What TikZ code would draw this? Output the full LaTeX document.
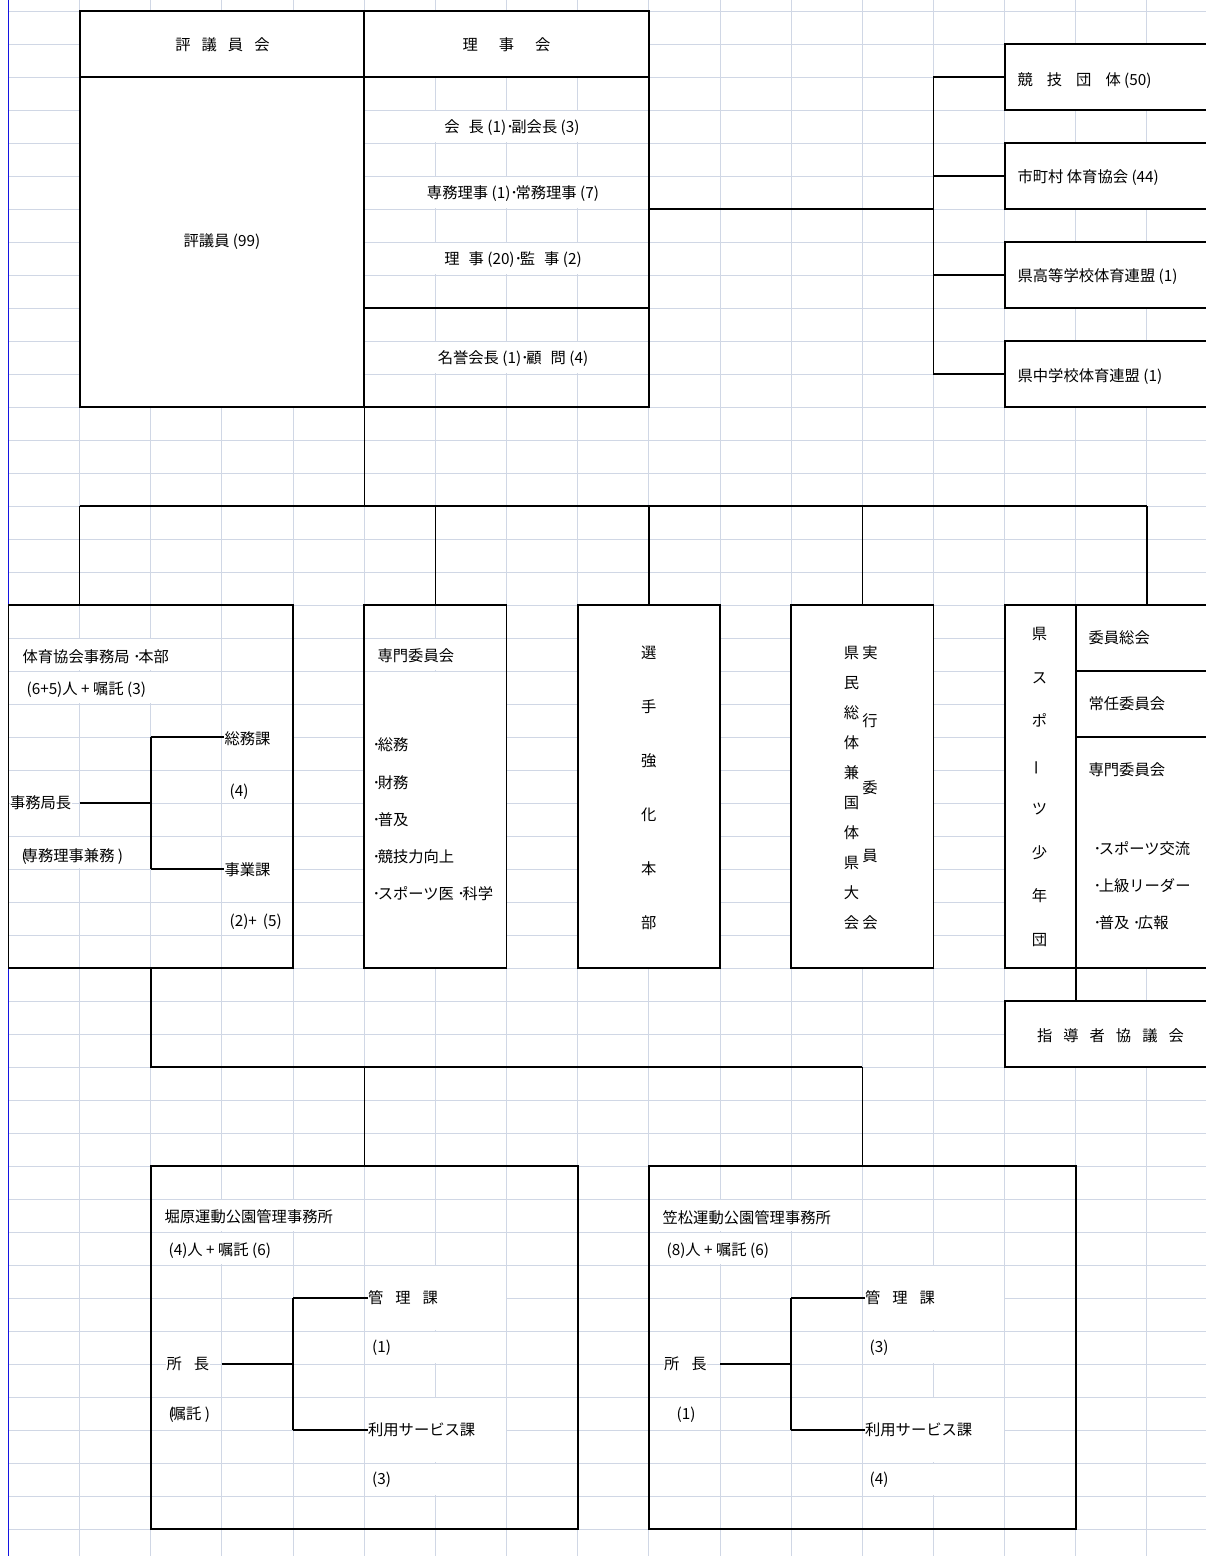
\documentclass[tikz,border=0pt]{standalone}
\usepackage{fontspec}
\setmainfont{Noto Sans CJK JP}
\definecolor{gridc}{RGB}{208,215,229}
\definecolor{edgeblue}{RGB}{20,20,225}
\newcommand\ws[1]{\hspace{#1pt}}
\newcommand\md{･\kern-2.5pt}
\newcommand\fs{\fontsize{15.3pt}{18pt}\selectfont}
% white cell: hides the sheet grid inside a merged cell, keeps its border lines
\newcommand\wcell[4]{\fill[white] ({#1+0.8},{#2+0.8}) rectangle ({#3-0.8},{#4-0.8});}
\begin{document}
\begin{tikzpicture}[x=1pt,y=-1pt,
  gridline/.style={draw=gridc,line width=1pt},
  box/.style={draw=black,line width=1.8pt,inner sep=0pt,outer sep=0pt},
  wbox/.style={box,fill=white},
  rule/.style={draw=black,line width=1.8pt},
  link/.style={draw=black,line width=1.5pt},
  lbl/.style={inner sep=0.4pt,anchor=west,font=\fs,fill=white},
  clbl/.style={inner sep=0.4pt,font=\fs,fill=white},
  vtxt/.style={align=center,inner sep=0pt,font=\fontsize{15.3pt}{#1pt}\selectfont},
]
\useasboundingbox (0,0) rectangle (1206,1556);
\clip (0,0) rectangle (1206,1556);
\fill[white] (0,0) rectangle (1206,1556);

% ---- sheet grid ----
\foreach \i in {1,...,17} \draw[gridline] ({8.5+71.15*\i},0) -- ({8.5+71.15*\i},1556);
\foreach \j in {0,...,47} \draw[gridline] (8.5,{11+33*\j}) -- (1206,{11+33*\j});
\draw[draw=edgeblue,line width=1.2pt] (8.5,0) -- (8.5,1556);

% ---- merged cells ----
\wcell{364.25}{11}{648.85}{77}
\wcell{364.25}{110}{648.85}{143}
\wcell{364.25}{176}{648.85}{209}
\wcell{364.25}{242}{648.85}{275}
\wcell{364.25}{341}{648.85}{374}
\wcell{8.5}{638}{221.95}{671}
\wcell{8.5}{671}{221.95}{704}
\wcell{221.95}{704}{293.1}{770}
\wcell{221.95}{836}{293.1}{902}
\wcell{8.5}{836}{150.8}{869}
\wcell{364.25}{638}{506.55}{671}
\wcell{364.25}{671}{506.55}{968}
\wcell{150.8}{1199}{364.25}{1232}
\wcell{150.8}{1232}{293.1}{1265}
\wcell{364.25}{1265}{506.55}{1331}
\wcell{364.25}{1331}{506.55}{1364}
\wcell{364.25}{1397}{506.55}{1463}
\wcell{364.25}{1463}{506.55}{1496}
\wcell{648.85}{1199}{862.3}{1232}
\wcell{648.85}{1232}{791.15}{1265}
\wcell{862.3}{1265}{1004.6}{1331}
\wcell{862.3}{1331}{1004.6}{1364}
\wcell{862.3}{1397}{1004.6}{1463}
\wcell{862.3}{1463}{1004.6}{1496}

% ---- boxes ----
\node[wbox,minimum width=284.6,minimum height=396] (hyogi) at (221.95,209) {};
\node[box,minimum width=284.6,minimum height=396] (riji) at (506.55,209) {};
\node[wbox,minimum width=212,minimum height=66] (kyogi) at (1110.6,77) {};
\node[wbox,minimum width=212,minimum height=66] (shicho) at (1110.6,176) {};
\node[wbox,minimum width=212,minimum height=66] (koren) at (1110.6,275) {};
\node[wbox,minimum width=212,minimum height=66] (churen) at (1110.6,374) {};
\node[box,minimum width=284.6,minimum height=363] (jimu) at (150.8,786.5) {};
\node[box,minimum width=142.3,minimum height=363] (senmon) at (435.4,786.5) {};
\node[wbox,minimum width=142.3,minimum height=363] (senshu) at (648.85,786.5) {};
\node[wbox,minimum width=142.3,minimum height=363] (kenmin) at (862.3,786.5) {};
\node[wbox,minimum width=212,minimum height=363] (shonen) at (1110.6,786.5) {};
\node[wbox,minimum width=212,minimum height=66] (shido) at (1110.6,1034) {};
\node[box,minimum width=426.9,minimum height=363] (hori) at (364.25,1347.5) {};
\node[box,minimum width=426.9,minimum height=363] (kasa) at (862.3,1347.5) {};

% dividers inside boxes
\draw[rule] (79.65,77) -- (364.25,77);
\draw[rule] (364.25,77) -- (648.85,77);
\draw[rule] (364.25,308) -- (648.85,308);
\draw[rule] (1075.75,605) -- (1075.75,968);
\draw[rule] (1075.75,671) -- (1216,671);
\draw[rule] (1075.75,737) -- (1216,737);

% ---- labels: top ----
\node[clbl] (hyogiH) at (222.5,45) {評\ws{11}議\ws{11}員\ws{11}会};
\node[clbl] (rijiH) at (506.5,45) {理\ws{21}事\ws{21}会};
\node[clbl] (hyogiN) at (222,242) {評議員 (99)};
\node[clbl] (rj1) at (512,128) {会\ws{9}長 (1)\md 副会長 (3)};
\node[clbl] (rj2) at (513,194) {専務理事 (1)\md 常務理事 (7)};
\node[clbl] (rj3) at (513,260) {理\ws{9}事 (20)\md 監\ws{9}事 (2)};
\node[clbl] (rj4) at (513,359) {名誉会長 (1)\md 顧\ws{9}問 (4)};

\node[lbl] (kyogiT) at (1017,81) {競\ws{14}技\ws{14}団\ws{14}体 (50)};
\node[lbl] (shichoT) at (1017,178) {市町村 体育協会 (44)};
\node[lbl] (korenT) at (1017,277) {県高等学校体育連盟 (1)};
\node[lbl] (churenT) at (1017,377) {県中学校体育連盟 (1)};

% ---- labels: secretariat ----
\node[lbl] (jimuT) at (22,657) {体育協会事務局 \md 本部};
\node[lbl] (jimuN) at (26,690) {(6+5)人 + 嘱託 (3)};
\node[lbl] (somu) at (224,739) {総務課};
\node[lbl] (somuN) at (229,792) {(4)};
\node[lbl] (kyc) at (9.5,803) {事務局長};
\node[lbl] (kycN) at (21,857) {(\kern-4pt専務理事兼務 )};
\node[lbl] (jigyo) at (224,870) {事業課};
\node[lbl] (jigyoN) at (229,922) {(2)+\ws{6}(5)};

% ---- labels: committees ----
\node[lbl] (senmonT) at (377,656) {専門委員会};
\node[lbl] (sm1) at (372,745) {\md 総務};
\node[lbl] (sm2) at (372,783) {\md 財務};
\node[lbl] (sm3) at (372,820) {\md 普及};
\node[lbl] (sm4) at (372,857) {\md 競技力向上};
\node[lbl] (sm5) at (372,894) {\md スポーツ医 \md 科学};

\node[vtxt=54] (senshuT) at (648.85,788) {選\\手\\強\\化\\本\\部};
\node[vtxt=30] (kenminL) at (851.5,788) {県\\民\\総\\体\\兼\\国\\体\\県\\大\\会};
\node[vtxt=67.5] (kenminR) at (870,788) {実\\行\\委\\員\\会};
\node[vtxt=43.7] (shonenT) at (1039.5,787) {県\\ス\\ポ\\\rotatebox[origin=c]{90}{ー}\\ツ\\少\\年\\団};

\node[lbl] (sh1) at (1088,638) {委員総会};
\node[lbl] (sh2) at (1088,704) {常任委員会};
\node[lbl] (sh3) at (1088,770) {専門委員会};
\node[lbl] (sh4) at (1093,849) {\md スポーツ交流};
\node[lbl] (sh5) at (1093,886) {\md 上級リーダー};
\node[lbl] (sh6) at (1093,923) {\md 普及 \md 広報};
\node[clbl] (shidoT) at (1110.5,1036) {指\ws{11}導\ws{11}者\ws{11}協\ws{11}議\ws{11}会};

% ---- labels: park offices ----
\node[lbl] (horiT) at (164,1217) {堀原運動公園管理事務所};
\node[lbl] (horiN) at (168,1251) {(4)人 + 嘱託 (6)};
\node[lbl] (horiK) at (367.5,1298) {管\ws{12}理\ws{12}課};
\node[lbl] (horiKN) at (371.5,1348) {(1)};
\node[lbl] (horiC) at (166,1364) {所\ws{12}長};
\node[lbl] (horiCN) at (168,1415) {(\kern-3pt嘱託 )};
\node[lbl] (horiR) at (367.5,1430) {利用サービス課};
\node[lbl] (horiRN) at (371.5,1480) {(3)};

\node[lbl] (kasaT) at (662,1218) {笠松運動公園管理事務所};
\node[lbl] (kasaN) at (666,1251) {(8)人 + 嘱託 (6)};
\node[lbl] (kasaK) at (864.5,1298) {管\ws{12}理\ws{12}課};
\node[lbl] (kasaKN) at (869,1348) {(3)};
\node[lbl] (kasaC) at (663.5,1364) {所\ws{12}長};
\node[lbl] (kasaCN) at (676,1415) {(1)};
\node[lbl] (kasaR) at (864.5,1430) {利用サービス課};
\node[lbl] (kasaRN) at (869,1480) {(4)};

% ---- connectors: affiliated bodies ----
\coordinate (rJ) at (933.45,209);
\coordinate (r1) at (933.45,77);
\coordinate (r2) at (933.45,176);
\coordinate (r3) at (933.45,275);
\coordinate (r4) at (933.45,374);
\draw[link] (riji.east) -- (rJ);
\draw[link] (r1) -- (r4);
\draw[link] (r1) -- (kyogi.west);
\draw[link] (r2) -- (shicho.west);
\draw[link] (r3) -- (koren.west);
\draw[link] (r4) -- (churen.west);

% ---- connectors: main tree ----
\coordinate (tJ) at (364.25,506);
\coordinate (tL) at (79.65,506);
\coordinate (tR) at (1146.9,506);
\draw[link] (hyogi.south east) -- (tJ);
\draw[link] (tL) -- (tR);
\draw[link] (tL) -- (tL |- jimu.north);
\draw[link] (senmon.north |- tL) -- (senmon.north);
\draw[link] (senshu.north |- tL) -- (senshu.north);
\draw[link] (kenmin.north |- tL) -- (kenmin.north);
\draw[link] (tR) -- (tR |- shonen.north);
\coordinate (sD) at (1075.75,985);
\draw[link] (sD |- shonen.south) -- (sD |- shido.north);

\coordinate (bL) at (150.8,1067);
\coordinate (bR) at (862.3,1067);
\draw[link] (jimu.south) -- (bL) -- (bR);
\draw[link] (hori.north |- bL) -- (hori.north);
\draw[link] (bR) -- (kasa.north);

% ---- connectors inside the secretariat ----
\coordinate (jA) at (79.65,803);
\coordinate (jV) at (150.8,803);
\coordinate (jT) at (150.8,737);
\coordinate (jB) at (150.8,869);
\draw[link] (jA) -- (jV);
\draw[link] (jT) -- (jB);
\draw[link] (jT) -- (jT -| somu.west);
\draw[link] (jB) -- (jB -| jigyo.west);

% ---- connectors inside the park offices ----
\coordinate (hA) at (221.95,1364);
\coordinate (hV) at (293.1,1364);
\coordinate (hT) at (293.1,1298);
\coordinate (hB) at (293.1,1430);
\draw[link] (hA) -- (hV);
\draw[link] (hT) -- (hB);
\draw[link] (hT) -- (hT -| horiK.west);
\draw[link] (hB) -- (hB -| horiR.west);

\coordinate (kA) at (720,1364);
\coordinate (kV) at (791.15,1364);
\coordinate (kT) at (791.15,1298);
\coordinate (kB) at (791.15,1430);
\draw[link] (kA) -- (kV);
\draw[link] (kT) -- (kB);
\draw[link] (kT) -- (kT -| kasaK.west);
\draw[link] (kB) -- (kB -| kasaR.west);
\end{tikzpicture}
\end{document}
